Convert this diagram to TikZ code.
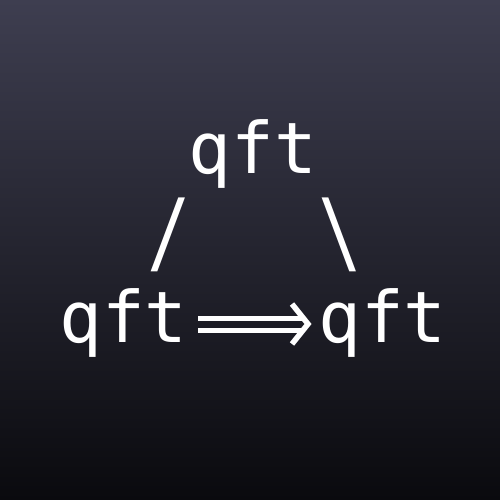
\documentclass[tikz,border=0pt]{standalone}
\usepackage{fontspec}
\usepackage{graphicx}
\setmonofont{DejaVu Sans Mono}
\definecolor{bgtop}{RGB}{62,62,80}
\definecolor{bgbot}{RGB}{10,10,14}
\tikzset{
  term/.style={text=white, font=\ttfamily\fontsize{71}{71}\selectfont, inner sep=0pt, anchor=base},
  edgechar/.style={text=white, font=\ttfamily\fontsize{72}{72}\selectfont, inner sep=0pt, anchor=center},
  arrowline/.style={draw=white, line width=5pt},
  arrowhead/.style={draw=white, line width=5.5pt, miter limit=10}
}
\begin{document}
\begin{tikzpicture}[x=1pt,y=-1pt]
  \shade[top color=bgtop, bottom color=bgbot] (0,0) rectangle (500,500);
  \useasboundingbox (0,0) rectangle (500,500);
  \node[term] (top) at (253,173) {qft};
  \node[edgechar] (sl) at (169,234.5) {\scalebox{1}[1.25]{/}};
  \node[edgechar] (bs) at (340,234.5) {\scalebox{1}[1.25]{\textbackslash}};
  \node[term] (left) at (123.5,342) {qft};
  \node[term] (right) at (382.5,342) {qft};
  \coordinate (a1) at (198,318);
  \coordinate (a2) at (198,330.5);
  \draw[arrowline] (a1) -- (303,318);
  \draw[arrowline] (a2) -- (303,330.5);
  \coordinate (tip) at (308,324);
  \draw[arrowhead] (292,304) -- (tip) -- (292,344);
\end{tikzpicture}
\end{document}
